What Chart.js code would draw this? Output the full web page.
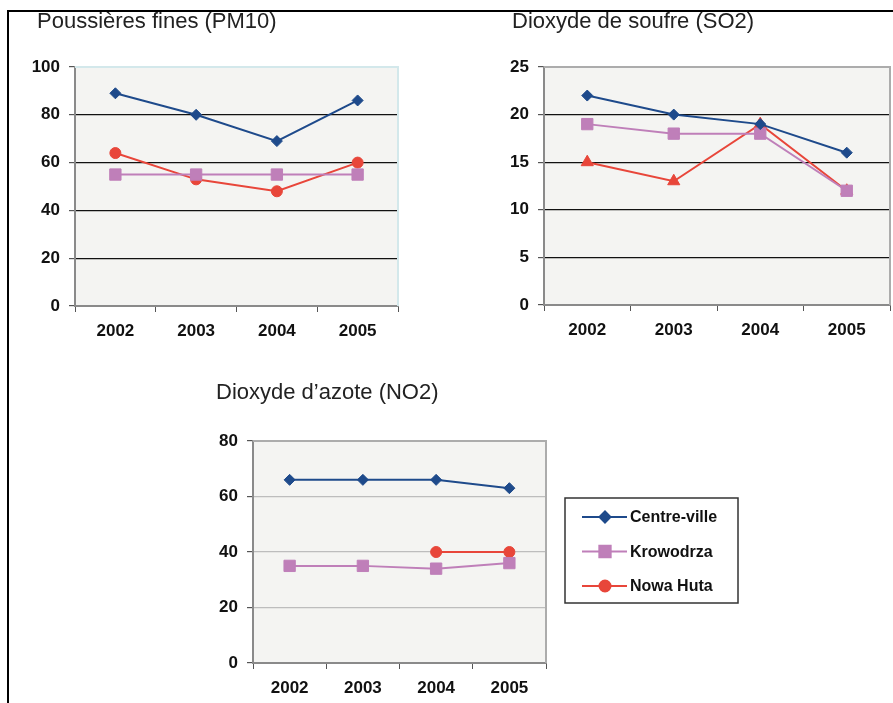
<!DOCTYPE html>
<html>
<head>
<meta charset="utf-8">
<script src="https://cdn.jsdelivr.net/npm/chart.js@4.4.1/dist/chart.umd.min.js"></script>
<style>
  body { margin: 0; background: #fff; width: 893px; height: 703px; position: relative; overflow: hidden; font-family: "Liberation Sans", Arial, sans-serif; }
  .box { position: absolute; }
  #frameTop { position: absolute; left: 7px; top: 10px; width: 886px; height: 0; border-top: 2px solid #000; }
  #frameLeft { position: absolute; left: 7px; top: 10px; width: 0; height: 693px; border-left: 2px solid #000; }
</style>
</head>
<body>
<div id="frameTop"></div>
<div id="frameLeft"></div>
<div class="box" style="left:27px; top:9px; width:380px; height:337px;"><canvas id="pm10"></canvas></div>
<div class="box" style="left:500px; top:9px; width:399px; height:336px;"><canvas id="so2"></canvas></div>
<div class="box" style="left:206px; top:380px; width:545px; height:323px;"><canvas id="no2"></canvas></div>
<script>
const years = ['2002', '2003', '2004', '2005'];
const seriesNames = ['Centre-ville', 'Krowodrza', 'Nowa Huta'];

// Poussières fines (PM10)
const pm10Centre = [89, 80, 69, 86];
const pm10Krowodrza = [55, 55, 55, 55];
const pm10NowaHuta = [64, 53, 48, 60];

// Dioxyde de soufre (SO2)
const so2Centre = [22, 20, 19, 16];
const so2Krowodrza = [19, 18, 18, 12];
const so2NowaHuta = [15, 13, 19, 12];

// Dioxyde d'azote (NO2)
const no2Centre = [66, 66, 66, 63];
const no2Krowodrza = [35, 35, 34, 36];
const no2NowaHuta = [null, null, 40, 40];

const FONT = '"Liberation Sans", Arial, sans-serif';
const BLUE = '#1e4a8b';
const PINK = '#bf7fb9';
const RED = '#e8463a';

/* plot background, top/right frame and the boxed legend */
const plotFrame = {
    id: 'plotFrame',
    afterLayout(chart, args, opts) {
        // title sits a little right of the tick labels
        if (opts.titleShift && chart.titleBlock) {
            chart.titleBlock.left += opts.titleShift;
            chart.titleBlock.right += opts.titleShift;
        }
    },
    beforeDraw(chart) {
        const a = chart.chartArea, ctx = chart.ctx;
        ctx.save();
        ctx.fillStyle = '#f4f4f2';
        ctx.fillRect(a.left, a.top, a.right - a.left, a.bottom - a.top);
        ctx.restore();
    },
    afterDatasetsDraw(chart, args, opts) {
        const a = chart.chartArea, ctx = chart.ctx;
        ctx.save();
        ctx.strokeStyle = opts.color || '#aaa';
        ctx.lineWidth = 2;
        ctx.beginPath();
        ctx.moveTo(a.left, a.top);
        ctx.lineTo(a.right, a.top);
        ctx.lineTo(a.right, a.bottom);
        ctx.stroke();
        ctx.restore();
    },
    afterDraw(chart, args, opts) {
        if (!opts.legendBox) return;
        const a = chart.chartArea, ctx = chart.ctx;
        const bx = a.right + 19, by = a.top + 57;
        ctx.save();
        ctx.strokeStyle = '#333';
        ctx.lineWidth = 1.5;
        ctx.strokeRect(bx, by, 173, 105);
        ctx.font = 'bold 16px ' + FONT;
        ctx.textBaseline = 'middle';
        chart.data.datasets.forEach((ds, i) => {
            const y = by + 19 + i * 34.5;
            ctx.strokeStyle = ds.borderColor;
            ctx.lineWidth = 2;
            ctx.beginPath();
            ctx.moveTo(bx + 17, y);
            ctx.lineTo(bx + 62, y);
            ctx.stroke();
            ctx.fillStyle = ds.borderColor;
            Chart.helpers.drawPoint(ctx, { pointStyle: ds.pointStyle, radius: ds.pointRadius, rotation: 0, borderWidth: 1 }, bx + 40, y);
            ctx.fillStyle = '#111';
            ctx.fillText(ds.label, bx + 65, y + 1);
        });
        ctx.restore();
    }
};

function series(label, data, color, style, radius) {
    return {
        label: label,
        data: data,
        borderColor: color,
        backgroundColor: color,
        borderWidth: 2,
        pointStyle: style,
        pointRadius: radius,
        pointBorderWidth: 1,
        tension: 0
    };
}

function makeChart(id, title, datasets, max, step, frameColor, gridColor, titleGap, padLeft, yWidth, padRight, titleShift, withLegend) {
    return new Chart(document.getElementById(id), {
        type: 'line',
        data: { labels: years, datasets: datasets },
        plugins: [plotFrame],
        options: {
            animation: false,
            responsive: true,
            maintainAspectRatio: false,
            layout: { padding: { left: padLeft, right: padRight } },
            plugins: {
                tooltip: { enabled: false },
                legend: { display: false },
                plotFrame: { color: frameColor, legendBox: withLegend, titleShift: titleShift },
                title: {
                    display: true,
                    text: title,
                    align: 'start',
                    color: '#222',
                    font: { family: FONT, size: 22, weight: 'normal', lineHeight: 1.2 },
                    padding: { top: 0, bottom: titleGap }
                }
            },
            scales: {
                x: {
                    offset: true,
                    grid: { offset: true, drawOnChartArea: false, drawTicks: true, tickLength: 6, tickColor: '#555' },
                    border: { color: '#8a8a8a', width: 2 },
                    ticks: { color: '#111', padding: 9, font: { family: FONT, size: 17, weight: 'bold' } },
                    afterFit(s) { s.height = 40; s.paddingLeft = 0; s.paddingRight = 0; }
                },
                y: {
                    min: 0,
                    max: max,
                    ticks: { stepSize: step, color: '#111', padding: 9, font: { family: FONT, size: 17, weight: 'bold' } },
                    grid: {
                        color: ctx => ctx.tick && ctx.tick.value === 0 ? 'rgba(0,0,0,0)' : gridColor,
                        lineWidth: 1.2,
                        tickLength: 6,
                        tickColor: '#555'
                    },
                    border: { color: '#8a8a8a', width: 2 },
                    afterFit(s) { s.width = yWidth; }
                }
            }
        }
    });
}

makeChart('pm10', 'Poussières fines (PM10)', [
    series(seriesNames[0], pm10Centre, BLUE, 'rectRot', 5.5),
    series(seriesNames[1], pm10Krowodrza, PINK, 'rect', 8),
    series(seriesNames[2], pm10NowaHuta, RED, 'circle', 5.5)
], 100, 20, '#d3e8eb', '#111', 31.6, 3, 45, 2, 7, false);

makeChart('so2', 'Dioxyde de soufre (SO2)', [
    series(seriesNames[0], so2Centre, BLUE, 'rectRot', 5.5),
    series(seriesNames[1], so2Krowodrza, PINK, 'rect', 8),
    series(seriesNames[2], so2NowaHuta, RED, 'triangle', 7)
], 25, 5, '#acacac', '#111', 31.6, 9, 35, 2, 3, false);

makeChart('no2', 'Dioxyde d’azote (NO2)', [
    series(seriesNames[0], no2Centre, BLUE, 'rectRot', 5.5),
    series(seriesNames[1], no2Krowodrza, PINK, 'rect', 8),
    series(seriesNames[2], no2NowaHuta, RED, 'circle', 5.5)
], 80, 20, '#acacac', '#bdbdbd', 34.6, 10, 37, 205, 0, true);
</script>
</body>
</html>
